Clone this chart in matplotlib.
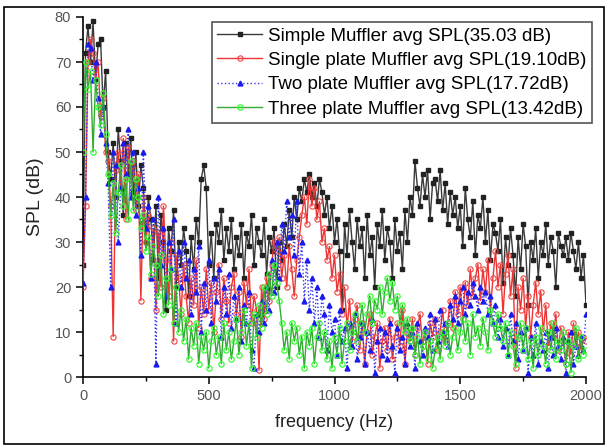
import numpy as np
import matplotlib
matplotlib.use("Agg")
import matplotlib.pyplot as plt
from matplotlib.ticker import MultipleLocator
from matplotlib.patches import Rectangle

freq = list(range(0, 2001, 10))

simple = [
    25, 72, 78, 70, 79, 66, 74, 75, 60, 68,
    50, 44, 52, 40, 55, 48, 36, 52, 45, 53,
    41, 50, 38, 47, 42, 30, 40, 35, 26, 38,
    22, 36, 30, 15, 33, 28, 37, 20, 30, 25,
    33, 28, 18, 31, 24, 35, 30, 44, 47, 42,
    25, 32, 22, 34, 30, 37, 26, 33, 28, 35,
    24, 31, 27, 34, 22, 32, 29, 36, 25, 33,
    30, 27, 35, 23, 31, 28, 33, 20, 30, 26,
    34, 29, 37, 31, 40, 35, 42, 39, 44, 41,
    45, 40, 43, 38, 44, 41, 36, 40, 33, 38,
    30, 35, 28, 15, 34, 27, 37, 30, 24, 35,
    29, 33, 22, 36, 27, 31, 20, 34, 29, 37,
    26, 33, 30, 22, 35, 28, 32, 24, 37, 30,
    40, 36, 48, 42, 38, 45, 40, 46, 35, 43,
    44, 39, 46, 37, 43, 34, 41, 36, 40, 33,
    38, 29, 42, 35, 31, 39, 27, 36, 33, 40,
    30, 37, 26, 34, 32, 28, 35, 21, 31, 25,
    33, 27, 18, 31, 24, 34, 29, 16, 30, 26,
    33, 22, 30, 27, 34, 25, 31, 28, 20, 32,
    29, 27, 31, 26, 32, 28, 24, 30, 22, 27,
    16]

single = [
    20, 38, 70, 75, 72, 66, 70, 58, 62, 50,
    48, 38, 9, 46, 50, 42, 53, 35, 51, 44,
    48, 37, 45, 17, 40, 30, 36, 22, 33, 15,
    32, 20, 38, 26, 18, 30, 8, 27, 22, 14,
    25, 18, 12, 22, 16, 26, 11, 20, 14, 24,
    15, 21, 10, 19, 25, 13, 22, 17, 12, 20,
    23, 14, 19, 9, 21, 16, 24, 12, 18, 15,
    1.5, 20, 13, 22, 17, 25, 30, 28, 31, 22,
    27, 20, 29, 24, 18, 26, 31, 36, 40, 34,
    44, 38, 42, 35, 39, 30, 33, 26, 29, 22,
    27, 19, 23, 14, 20, 11, 17, 8, 13, 16,
    6, 12, 3, 10, 14, 5, 9, 12, 2, 8,
    11, 6, 13, 4, 9, 12, 7, 15, 3, 10,
    8, 13, 5, 11, 14, 7, 10, 3, 12, 9,
    13, 6, 10, 15, 8, 12, 17, 11, 19, 14,
    20, 13, 21, 16, 24, 18, 22, 25, 17, 24,
    19, 26, 15, 22, 28, 20, 25, 14, 23, 27,
    18, 24, 2, 20, 15, 22, 11, 18, 9, 16,
    21, 14, 19, 10, 16, 7, 12, 9, 14, 6,
    11, 8, 3, 10, 5, 12, 7, 10, 6, 9,
    8]

two = [
    21, 40, 74, 73, 66, 70, 62, 54, 60, 52,
    43, 20, 50, 47, 30, 42, 52, 45, 55, 40,
    50, 36, 42, 27, 50, 33, 38, 22, 35, 3,
    40, 25, 33, 18, 30, 24, 35, 12, 28, 20,
    30, 22, 26, 14, 24, 19, 29, 10, 21, 15,
    26, 12, 22, 17, 24, 9, 20, 14, 23, 11,
    18, 13, 20, 8, 16, 12, 19, 6, 2, 14,
    10, 17, 12, 20, 15, 26, 19, 30, 22, 34,
    28, 39, 31, 36, 27, 39, 23, 30, 17, 26,
    15, 22, 12, 20, 9, 18, 14, 6, 16, 10,
    13, 5, 15, 8, 11, 2, 12, 7, 14, 4,
    9, 12, 3, 10, 6, 13, 1, 8, 11, 5,
    10, 4, 12, 7, 1, 11, 6, 9, 3, 12,
    7, 10, 2, 12, 8, 5, 11, 9, 14, 6,
    13, 8, 15, 10, 12, 7, 16, 13, 18, 12,
    17, 20, 14, 19, 16, 21, 18, 15, 20, 17,
    19, 14, 18, 12, 16, 9, 13, 7, 11, 5,
    14, 8, 12, 4, 10, 6, 11, 1, 9, 5,
    12, 3, 8, 6, 10, 2, 9, 5, 11, 7,
    4, 9, 1, 8, 10, 3, 7, 5, 9, 6,
    14]

three = [
    50, 70, 64, 68, 50, 66, 60, 56, 63, 54,
    45, 36, 43, 32, 41, 47, 38, 44, 35, 48,
    37, 44, 40, 33, 36, 28, 31, 23, 29, 25,
    18, 27, 14, 22, 16, 24, 12, 20, 10, 15,
    8, 13, 4, 11, 7, 12, 3, 9, 6, 10,
    2, 8, 11, 5, 9, 3, 12, 6, 10, 4,
    8, 13, 5, 10, 15, 7, 12, 2, 14, 9,
    16, 11, 20, 14, 23, 18, 25, 21, 17, 12,
    6, 10, 4, 12, 8, 11, 5, 9, 2, 10,
    7, 11, 3, 9, 12, 6, 10, 4, 8, 2,
    9, 5, 11, 3, 8, 12, 6, 10, 14, 8,
    12, 16, 10, 14, 18, 12, 17, 15, 20, 14,
    19, 22, 17, 21, 15, 18, 12, 16, 10, 13,
    8, 11, 5, 9, 3, 7, 10, 4, 8, 2,
    6, 9, 4, 10, 7, 12, 5, 9, 11, 6,
    10, 13, 8, 12, 5, 14, 9, 11, 7, 13,
    10, 6, 15, 12, 9, 14, 11, 8, 12, 5,
    10, 7, 3, 9, 12, 6, 11, 4, 8, 2,
    9, 5, 11, 7, 3, 10, 6, 12, 4, 8,
    6, 10, 3, 8, 1, 7, 11, 4, 9, 5,
    6]

labels = [
    "Simple Muffler avg SPL(35.03 dB)",
    "Single plate Muffler avg SPL(19.10dB)",
    "Two plate Muffler avg SPL(17.72dB)",
    "Three plate Muffler avg SPL(13.42dB)",
]

plt.rcParams['font.family'] = ['Liberation Sans', 'DejaVu Sans']

fig = plt.figure(figsize=(6.09, 4.48), dpi=100)
fig.patches.append(Rectangle((4/609, 4/448), 600/609, 437/448, transform=fig.transFigure,
                             fill=False, edgecolor='black', linewidth=1.2))
ax = fig.add_axes([83/609, 71/448, 503/609, 360/448])

ax.plot(freq, simple, color='#3a3a3a', lw=1.0, marker='s', ms=2.2, mfc='#222222', mec='#222222',
        label=labels[0], zorder=2)
ax.plot(freq, single, color='#ee3333', lw=1.0, marker='o', ms=3.8, mfc='none', mec='#ee4444',
        mew=0.8, label=labels[1], zorder=3)
ax.plot(freq, two, color='#3333ee', lw=1.0, ls=':', marker='^', ms=3.5, mfc='#1a1aee', mec='#1a1aee',
        label=labels[2], zorder=4)
ax.plot(freq, three, color='#33aa33', lw=1.0, marker='o', ms=3.8, mfc='none', mec='#33ff33',
        mew=0.9, label=labels[3], zorder=5)

ax.set_xlim(0, 2000)
ax.set_ylim(0, 80)
ax.xaxis.set_major_locator(MultipleLocator(500))
ax.xaxis.set_minor_locator(MultipleLocator(250))
ax.yaxis.set_major_locator(MultipleLocator(10))
ax.yaxis.set_minor_locator(MultipleLocator(5))
ax.spines['top'].set_visible(False)
ax.spines['right'].set_visible(False)
for s in ('left', 'bottom'):
    ax.spines[s].set_linewidth(1.2)
ax.tick_params(axis='both', which='major', direction='out', length=5, width=1.1,
               labelsize=10.5, labelcolor='#555555')
ax.tick_params(axis='both', which='minor', direction='out', length=3, width=1.0)
ax.set_xlabel("frequency (Hz)", fontsize=13, labelpad=8, color='#222222')
ax.set_ylabel("SPL (dB)", fontsize=14, labelpad=8, color='#222222')

leg = ax.legend(loc='upper right', bbox_to_anchor=(1.012, 0.986), fontsize=13.5, handlelength=2.4,
                handletextpad=0.3, labelspacing=0.38, borderpad=0.3, fancybox=False,
                framealpha=1, edgecolor='#555555', borderaxespad=0)
leg.get_frame().set_linewidth(1.2)

fig.savefig("out.png", dpi=100)
